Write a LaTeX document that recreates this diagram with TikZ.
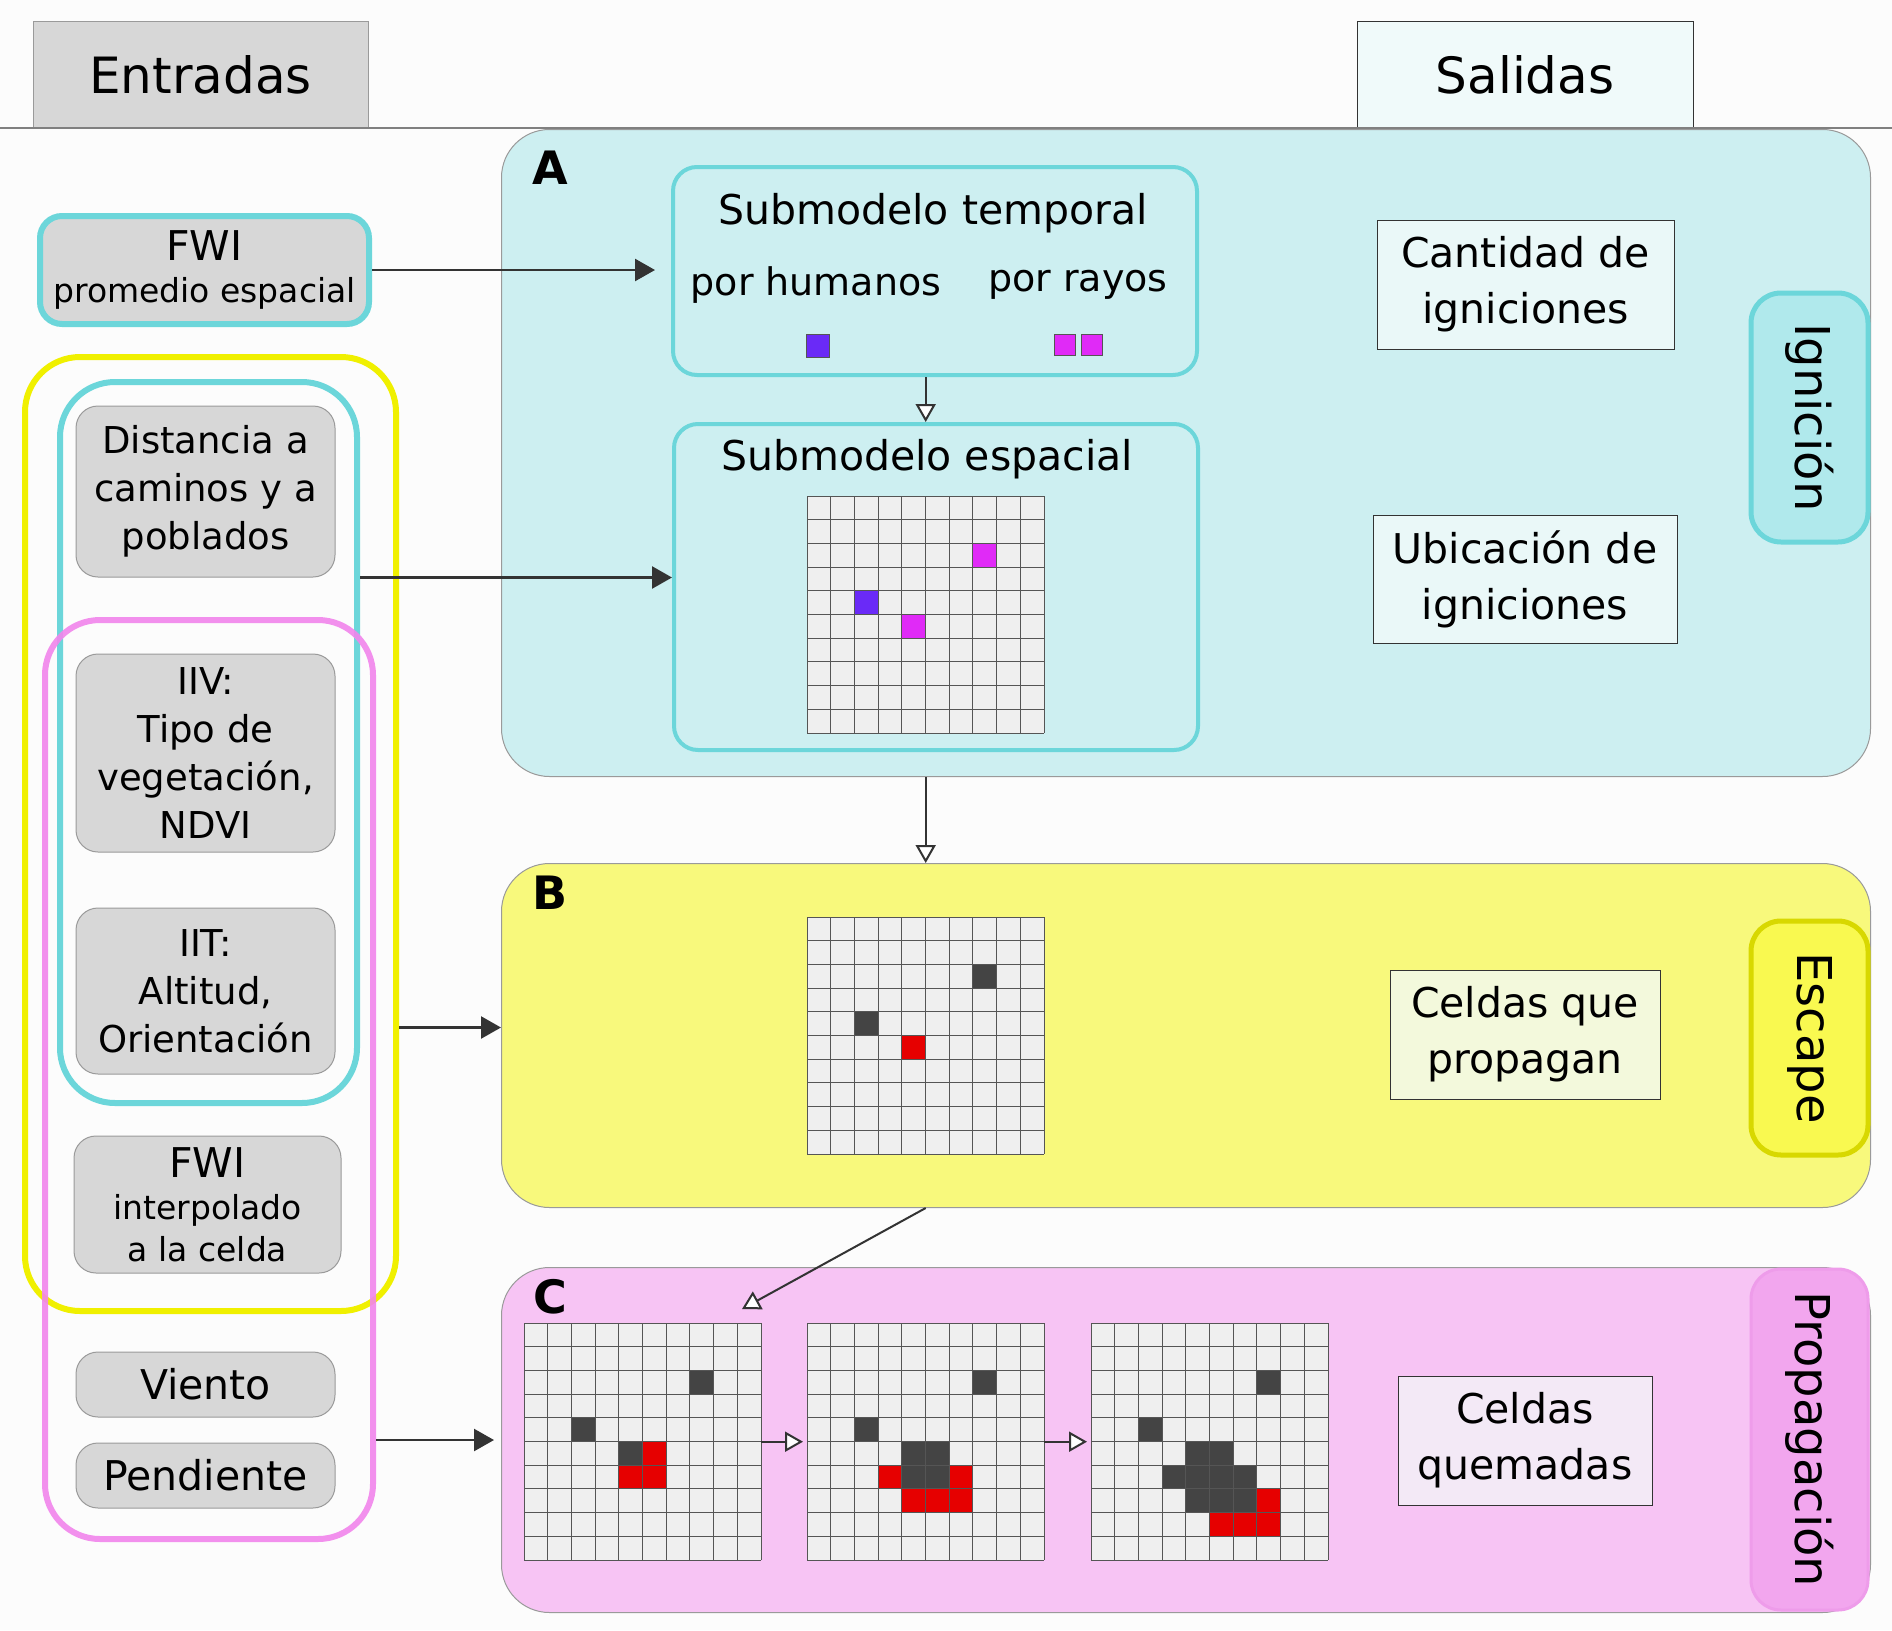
\documentclass[tikz,border=0pt]{standalone}
\usepackage{fontspec}
\setmainfont{DejaVu Sans}
\usetikzlibrary{arrows.meta}

\definecolor{fondo}{HTML}{FCFCFC}
\definecolor{cajagris}{HTML}{D7D7D7}
\definecolor{bordegris}{HTML}{9A9A9A}
\definecolor{linea}{HTML}{333333}
\definecolor{cian}{HTML}{6CD6DA}
\definecolor{amarilloG}{HTML}{F0F000}
\definecolor{rosaG}{HTML}{F285EC}
\definecolor{fondoA}{HTML}{CDEFF1}
\definecolor{fondoB}{HTML}{F8F97C}
\definecolor{fondoC}{HTML}{F7C4F4}
\definecolor{salA}{HTML}{EAF8F8}
\definecolor{salB}{HTML}{F3F9DC}
\definecolor{salC}{HTML}{F3E9F6}
\definecolor{salH}{HTML}{F0FAFA}
\definecolor{ignF}{HTML}{B0E9EC}
\definecolor{escF}{HTML}{F9F950}
\definecolor{escD}{HTML}{D8D800}
\definecolor{propF}{HTML}{F2A6EE}
\definecolor{propD}{HTML}{EE9CEA}
\definecolor{celda}{HTML}{EFEFEF}
\definecolor{rejilla}{HTML}{555555}
\definecolor{oscuro}{HTML}{444444}
\definecolor{rojo}{HTML}{E60000}
\definecolor{violeta}{HTML}{6A2AF7}
\definecolor{fucsia}{HTML}{E02AF7}

\newcommand{\chico}{\fontsize{33pt}{42pt}\selectfont}

% grilla de 10x10 celdas: nombre, x, y, celdas coloreadas
\newcommand{\grilla}[4]{%
  \node[inner sep=0pt,minimum size=237pt,anchor=north west,fill=celda] (#1) at (#2,#3) {};
  \foreach \col/\i/\j in {#4} \fill[\col] ({#2+23.7*\i},{#3+23.7*\j}) rectangle ++(23.7,23.7);
  \foreach \k in {0,...,10} {
    \draw[rejilla,line width=1pt] ({#2+23.7*\k},#3) -- ++(0,237);
    \draw[rejilla,line width=1pt] (#2,{#3+23.7*\k}) -- ++(237,0);
  }
}

\tikzset{
  texto/.style={font=\fontsize{41pt}{56pt}\selectfont,align=center},
  entrada/.style={draw=bordegris,line width=1pt,fill=cajagris,rounded corners=22pt,align=center,font=\fontsize{37pt}{48pt}\selectfont},
  grupo/.style={line width=6pt,rounded corners=55pt,inner sep=0pt},
  seccion/.style={draw=bordegris,line width=1pt,rounded corners=48pt,inner sep=0pt},
  submodelo/.style={draw=cian,line width=4pt,fill=fondoA,rounded corners=24pt,inner sep=0pt},
  salida/.style={texto,draw=linea,line width=1pt,inner sep=0pt},
  etapa/.style={font=\fontsize{48pt}{56pt}\selectfont,rotate=-90,line width=5pt,rounded corners=30pt,minimum height=117pt,inner sep=0pt},
  letra/.style={font=\fontsize{46pt}{50pt}\selectfont\bfseries},
  flecha/.style={draw=linea,line width=2.5pt,-{Triangle[length=20pt,width=22pt]}},
  flechaab/.style={draw=linea,line width=2pt,-{Triangle[length=18pt,width=20pt,fill=white]}}
}

\begin{document}
\begin{tikzpicture}[x=1pt,y=-1pt]
\fill[fondo] (0,0) rectangle (1892,1630);
\useasboundingbox (0,0) rectangle (1892,1630);

% encabezados
\node[draw=bordegris,fill=cajagris,minimum width=335,minimum height=107,font=\fontsize{50pt}{56pt}\selectfont] (entradas) at (200.5,74.5) {Entradas};
\node[draw=linea,fill=salH,minimum width=336,minimum height=107,font=\fontsize{50pt}{56pt}\selectfont] (salidas) at (1525,74.5) {Salidas};
\draw[gray,line width=2.5pt] (0,128) coordinate (izq) -- (1892,128) coordinate (der);

% entradas
\node[entrada,draw=cian,line width=6pt,minimum width=329,minimum height=108,font=\fontsize{41pt}{42pt}\selectfont] (fwiProm) at (204.5,270) {FWI\\{\chico promedio espacial}};
\node[grupo,draw=amarilloG,minimum width=371,minimum height=954,anchor=north west] (grpAmarillo) at (22,354) {};
\node[grupo,draw=cian,minimum width=297,minimum height=721,anchor=north west] (grpCian) at (57,379) {};
\node[grupo,draw=rosaG,opacity=0.9,minimum width=328,minimum height=919,anchor=north west] (grpRosa) at (42,617) {};
\node[entrada,minimum width=259,minimum height=171] (distancia) at (205.5,491.5) {Distancia a\\caminos y a\\poblados};
\node[entrada,minimum width=259,minimum height=198] (iiv) at (205.5,753) {IIV:\\Tipo de\\vegetación,\\NDVI};
\node[entrada,minimum width=259,minimum height=166] (iit) at (205.5,991) {IIT:\\Altitud,\\Orientación};
\node[entrada,minimum width=267,minimum height=137,font=\fontsize{41pt}{42pt}\selectfont] (fwiCelda) at (207.5,1204.5) {FWI\\{\chico interpolado}\\{\chico a la celda}};
\node[entrada,minimum width=259,minimum height=65,font=\fontsize{41pt}{48pt}\selectfont] (viento) at (205.5,1384.5) {Viento};
\node[entrada,minimum width=259,minimum height=65,font=\fontsize{41pt}{48pt}\selectfont] (pendiente) at (205.5,1475.5) {Pendiente};

% secciones
\node[seccion,fill=fondoA,minimum width=1369,minimum height=647,anchor=north west] (secA) at (501,129) {};
\node[seccion,fill=fondoB,minimum width=1369,minimum height=344,anchor=north west] (secB) at (501,863) {};
\node[seccion,fill=fondoC,minimum width=1369,minimum height=345,anchor=north west] (secC) at (501,1267) {};
\node[letra] (letA) at (550,168) {A};
\node[letra] (letB) at (550,893) {B};
\node[letra] (letC) at (550,1297) {C};

% A: ignicion
\node[submodelo,minimum width=524,minimum height=208,anchor=north west] (temporal) at (671,165) {};
\node[texto] (titTemporal) at (933,213) {Submodelo temporal};
\node[font=\fontsize{38pt}{44pt}\selectfont] (humanos) at (816,285) {por humanos};
\node[font=\fontsize{38pt}{44pt}\selectfont] (rayos) at (1078,285) {por rayos};
\node[fill=violeta,draw=rejilla,line width=0.5pt,minimum size=23pt,inner sep=0pt] (qHum) at (817.5,345.5) {};
\node[fill=fucsia,draw=rejilla,line width=0.5pt,minimum size=21pt,inner sep=0pt] (qRay1) at (1065,345) {};
\node[fill=fucsia,draw=rejilla,line width=0.5pt,minimum size=21pt,inner sep=0pt] (qRay2) at (1092,345) {};
\node[submodelo,minimum width=524,minimum height=326,anchor=north west] (espacial) at (672,422) {};
\node[texto] (titEspacial) at (927,459) {Submodelo espacial};
\grilla{gridA}{807}{496}{fucsia/7/2,violeta/2/4,fucsia/4/5}

% B: escape
\grilla{gridB}{807}{917}{oscuro/7/2,oscuro/2/4,rojo/4/5}

% C: propagacion
\grilla{gridC1}{524}{1323}{oscuro/7/2,oscuro/2/4,oscuro/4/5,rojo/5/5,rojo/4/6,rojo/5/6}
\grilla{gridC2}{807}{1323}{oscuro/7/2,oscuro/2/4,oscuro/4/5,oscuro/5/5,oscuro/4/6,oscuro/5/6,rojo/3/6,rojo/6/6,rojo/4/7,rojo/5/7,rojo/6/7}
\grilla{gridC3}{1091}{1323}{oscuro/7/2,oscuro/2/4,oscuro/4/5,oscuro/5/5,oscuro/3/6,oscuro/4/6,oscuro/5/6,oscuro/6/6,oscuro/4/7,oscuro/5/7,oscuro/6/7,rojo/7/7,rojo/5/8,rojo/6/8,rojo/7/8}

% salidas
\node[salida,fill=salA,minimum width=297,minimum height=129] (cantidad) at (1525.5,284.5) {Cantidad de\\igniciones};
\node[salida,fill=salA,minimum width=304,minimum height=128] (ubicacion) at (1525,579) {Ubicación de\\igniciones};
\node[salida,fill=salB,minimum width=270,minimum height=129] (propagan) at (1525,1034.5) {Celdas que\\propagan};
\node[salida,fill=salC,minimum width=254,minimum height=129] (quemadas) at (1525,1440.5) {Celdas\\quemadas};

% etapas
\node[etapa,draw=cian,fill=ignF,minimum width=249] (ignicion) at (1809.5,417.5) {Ignición};
\node[etapa,draw=escD,fill=escF,minimum width=234] (escape) at (1809.5,1038) {Escape};
\node[etapa,draw=propD,fill=propF,line width=3pt,minimum width=341] (propagacion) at (1809.5,1439.5) {Propagación};

% conectores
\coordinate (llegada) at (742,1309);
\draw[flecha] (fwiProm.east) -- ([xshift=-16pt]temporal.west |- fwiProm.east);
\draw[flecha] (grpCian.east |- distancia.south) -- (espacial.west |- distancia.south);
\draw[flecha] ([yshift=8pt]grpAmarillo.east |- secB.west) -- ([yshift=8pt]secB.west);
\draw[flecha] (grpRosa.east |- secC.west) -- ([xshift=-7pt]secC.west);
\draw[flechaab] (gridA.north |- temporal.south) -- (gridA.north |- espacial.north);
\draw[flechaab] (gridA.south |- secA.south) -- (gridA.south |- secB.north);
\draw[flechaab] (gridB.south |- secB.south) -- (llegada);
\draw[flechaab] (gridC1.east) -- ([xshift=-4pt]gridC2.west);
\draw[flechaab] (gridC2.east) -- ([xshift=-4pt]gridC3.west);
\end{tikzpicture}
\end{document}
